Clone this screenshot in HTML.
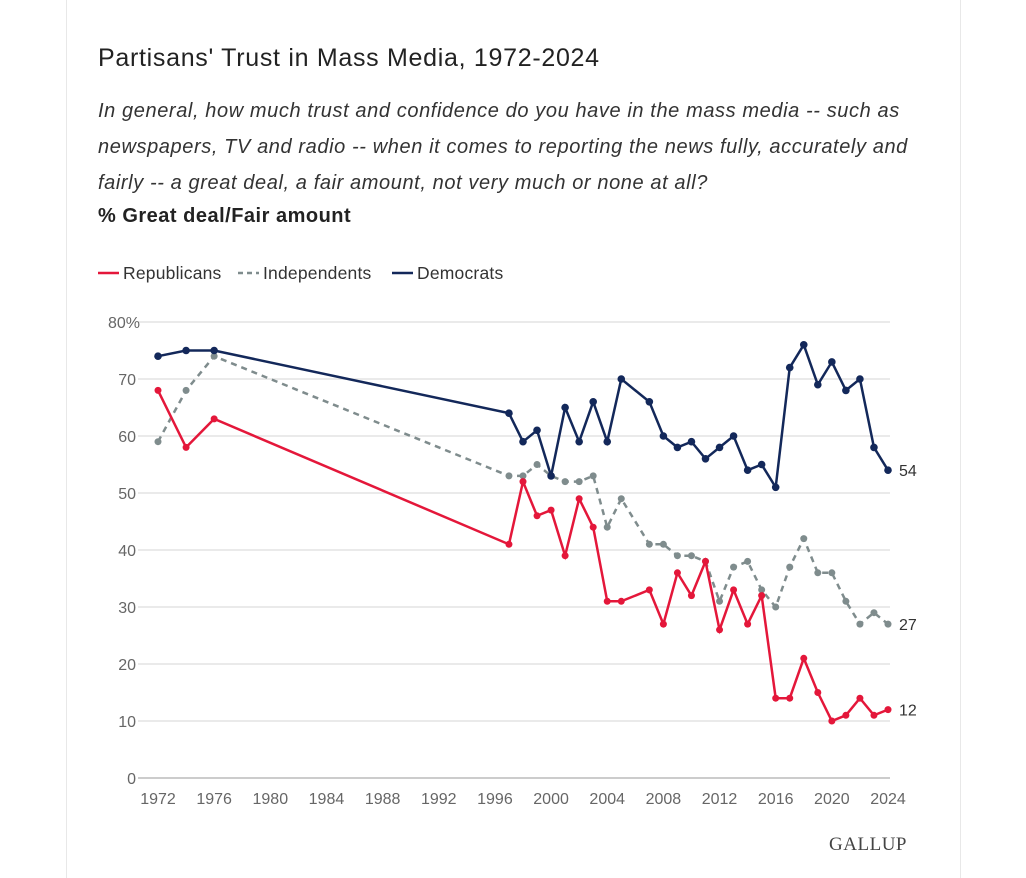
<!DOCTYPE html>
<html><head><meta charset="utf-8"><style>
body{margin:0;background:#fff;width:1026px;height:871px;overflow:hidden;font-family:"Liberation Sans",sans-serif;}
#card{position:absolute;left:66px;top:-2px;width:893px;height:880px;border-left:1px solid #e8e8e8;border-right:1px solid #e8e8e8;}
.t{position:absolute;left:98px;color:#222;white-space:nowrap;}
</style></head><body>
<div id="card"></div>
<div class="t" style="top:44px;font-size:25px;letter-spacing:0.7px;">Partisans' Trust in Mass Media, 1972-2024</div>
<div class="t" style="top:93px;font-size:20px;letter-spacing:0.6px;font-style:italic;line-height:36px;color:#333;">In general, how much trust and confidence do you have in the mass media -- such as<br>newspapers, TV and radio -- when it comes to reporting the news fully, accurately and<br>fairly -- a great deal, a fair amount, not very much or none at all?</div>
<div class="t" style="top:205px;font-size:20px;letter-spacing:0.5px;font-weight:bold;">% Great deal/Fair amount</div>
<svg id="chart" width="1026" height="871" style="position:absolute;left:0;top:0"></svg>
<script>
const years=[1972,1974,1976,1997,1998,1999,2000,2001,2002,2003,2004,2005,2007,2008,2009,2010,2011,2012,2013,2014,2015,2016,2017,2018,2019,2020,2021,2022,2023,2024];
const democrats=[74,75,75,64,59,61,53,65,59,66,59,70,66,60,58,59,56,58,60,54,55,51,72,76,69,73,68,70,58,54];
const independents=[59,68,74,53,53,55,53,52,52,53,44,49,41,41,39,39,38,31,37,38,33,30,37,42,36,36,31,27,29,27];
const republicans=[68,58,63,41,52,46,47,39,49,44,31,31,33,27,36,32,38,26,33,27,32,14,14,21,15,10,11,14,11,12];
const yTicks=[0,10,20,30,40,50,60,70,80];
const xTicks=[1972,1976,1980,1984,1988,1992,1996,2000,2004,2008,2012,2016,2020,2024];
const NS='http://www.w3.org/2000/svg',svg=document.getElementById('chart');
const x=y=>158+(y-1972)*(730/52);
const yv=v=>778-v*5.7;
function mk(t,a){const e=document.createElementNS(NS,t);for(const k in a)e.setAttribute(k,a[k]);svg.appendChild(e);return e;}
yTicks.forEach(v=>{
 const g=mk('line',{x1:138,x2:890,y1:yv(v),y2:yv(v),stroke:v===0?'#bbb':'#e4e4e4','stroke-width':1.5});
 
 
 const t=mk('text',{x:v===80?140:136,y:yv(v)+6,'text-anchor':'end','font-size':16,fill:'#666'});
 t.textContent=v===80?'80%':v;
 
 
});
xTicks.forEach(yr=>{
 const t=mk('text',{x:x(yr),y:804,'text-anchor':'middle','font-size':16,fill:'#666'});
 t.textContent=yr;
 
 
});
function series(vals,color,dash,name,r){
 const p=mk('polyline',{points:vals.map((v,i)=>x(years[i])+','+yv(v)).join(' '),fill:'none',stroke:color,'stroke-width':2.5,'stroke-dasharray':dash});
 
 
 vals.forEach((v,i)=>{const c=mk('circle',{cx:x(years[i]),cy:yv(v),r:r,fill:color});
 
 });
 const l=mk('text',{x:x(2024)+11,y:yv(vals[vals.length-1])+6,'font-size':16,fill:'#333'});
 l.textContent=vals[vals.length-1];
 
 
}
series(independents,'#7f8c8d','6,5','independents',3.5);
series(republicans,'#e4173a','none','republicans',3.5);
series(democrats,'#13285a','none','democrats',3.8);
const leg=[['Republicans','#e4173a','none',98],['Independents','#7f8c8d','5,4',238],['Democrats','#13285a','none',392]];
leg.forEach(([n,c,d,lx])=>{
 const l=mk('line',{x1:lx,x2:lx+21,y1:273,y2:273,stroke:c,'stroke-width':2.5,'stroke-dasharray':d});
 
 
 const t=mk('text',{x:lx+25,y:279,'font-size':17.5,fill:'#333','letter-spacing':'0.2'});
 t.textContent=n;
 
 
});
const g=mk('text',{x:907,y:850,'text-anchor':'end','font-size':19,fill:'#444','font-family':'Liberation Serif, serif','letter-spacing':'0.5'});
g.textContent='GALLUP';


</script>
</body></html>
